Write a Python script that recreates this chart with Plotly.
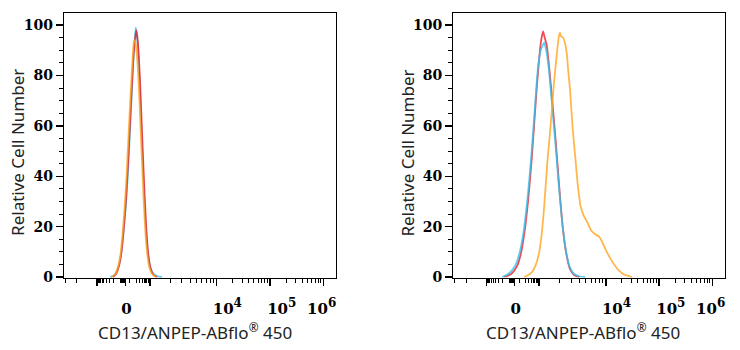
import numpy as np
import plotly.graph_objects as go

# ---------------- data (x in display units on the biexponential axis, y = relative cell number) ----
LEFT_CYAN_X = [1.998, 2.073, 2.129, 2.186, 2.223, 2.261, 2.298, 2.336, 2.373, 2.411, 2.448, 2.480,
               2.514, 2.552, 2.589, 2.627, 2.664, 2.702, 2.749, 2.805, 2.880, 2.974]
LEFT_CYAN_Y = [0, 0.6, 2.5, 6.5, 12, 20, 29, 42, 58, 75, 90, 99,
               93, 78, 58, 38, 22, 11, 4.5, 1.5, 0.4, 0]

LEFT_RED_X = [2.054, 2.111, 2.167, 2.214, 2.251, 2.289, 2.326, 2.364, 2.401, 2.439, 2.477, 2.492,
              2.523, 2.561, 2.598, 2.636, 2.674, 2.711, 2.758, 2.814, 2.880]
LEFT_RED_Y = [0, 1.2, 4.5, 10, 18, 28, 41, 57, 73, 88, 96, 98,
              93, 78, 58, 38, 21, 10, 3.5, 0.8, 0]

LEFT_GOLD_X = [2.017, 2.092, 2.148, 2.195, 2.233, 2.270, 2.308, 2.345, 2.383, 2.420, 2.448, 2.467,
               2.495, 2.533, 2.570, 2.608, 2.645, 2.683, 2.730, 2.786, 2.861]
LEFT_GOLD_Y = [0, 1, 4, 9, 17, 27, 40, 56, 72, 86, 93.5, 94,
               90, 78, 60, 41, 24, 12, 4.5, 1.2, 0]

RIGHT_RED_X = [2.092, 2.223, 2.336, 2.411, 2.486, 2.552, 2.608, 2.655, 2.702, 2.749, 2.786, 2.820,
               2.852, 2.889, 2.936, 2.998, 3.062, 3.124, 3.189, 3.255, 3.330, 3.405, 3.499]
RIGHT_RED_Y = [0, 1.2, 4.5, 10, 20, 33, 47, 61, 75, 87, 94, 97.5,
               95, 92, 83, 69, 53, 36, 20, 9.5, 3, 0.8, 0]

RIGHT_CYAN_X = [2.054, 2.186, 2.298, 2.373, 2.448, 2.523, 2.580, 2.636, 2.683, 2.730, 2.777, 2.814,
                2.842, 2.880, 2.927, 2.983, 3.049, 3.114, 3.180, 3.246, 3.321, 3.405, 3.499, 3.612]
RIGHT_CYAN_Y = [0, 1.5, 4.5, 9, 17, 30, 43, 58, 72, 84, 90, 92,
                93, 90, 83, 70, 54, 37, 22, 11, 4, 1.2, 0.3, 0]

RIGHT_GOLD_X = [2.467, 2.598, 2.687, 2.749, 2.795, 2.842, 2.899, 2.946, 2.992, 3.030, 3.077, 3.114,
                3.137, 3.161, 3.199, 3.236, 3.265, 3.293, 3.325, 3.373, 3.424, 3.471, 3.527, 3.593,
                3.658, 3.724, 3.799, 3.874, 3.940, 4.006, 4.081, 4.156, 4.249, 4.343, 4.493]
RIGHT_GOLD_Y = [0, 1.5, 5, 10, 17, 28, 45, 56, 68, 78, 88, 95,
                97, 95.5, 95, 92.5, 89, 82, 75, 60, 48, 37, 28, 24,
                21.5, 18.5, 17, 16, 13.5, 10.5, 7.5, 5, 2.5, 1, 0]

Y_TICKS = [0, 20, 40, 60, 80, 100]
X_TICK_LABELS = ["0",
                 "10<sup><span style='font-size:12px'>4</span></sup>",
                 "10<sup><span style='font-size:12px'>5</span></sup>",
                 "10<sup><span style='font-size:12px'>6</span></sup>"]
X_LABEL_VALUES = [0, 1e4, 1e5, 1e6]
X_MAJOR_VALUES = [-1000, 0, 1000, 1e4, 1e5, 1e6]

X_TITLE = "CD13/ANPEP-ABflo<sup>®</sup> 450"
Y_TITLE = "Relative Cell Number"

# ---------------- biexponential display scale ----------------
def to_disp(v):
    if abs(v) <= 100:
        return float(np.interp(v, [-100, 0, 100], [2.186, 2.289, 2.373]))
    n = np.log10(abs(v))
    if v > 0:
        return float(np.interp(n, [2, 3, 4, 5, 6], [2.373, 2.749, 4.0, 5.0, 6.0]))
    return float(np.interp(n, [2, 3, 4], [2.186, 1.754, 0.497]))

XR = [1.135, 6.238]
YR = [-0.25, 104.8]

minor_vals = ([k * 10 ** n for n in (2, 3, 4, 5) for k in range(2, 10)]
              + [-k * 10 ** n for n in (2, 3) for k in range(2, 10)]
              + [-10 * k for k in range(1, 10)] + [100, -100])
minor_pos = [p for p in (to_disp(v) for v in minor_vals) if XR[0] < p < XR[1]]
major_pos = [to_disp(v) for v in X_MAJOR_VALUES]
# label anchor shift (labels sit to the right of their ticks, last one pulled inside the frame)
LABEL_SHIFT = [0.02, 0.2, 0.22, -0.03]
label_pos = [to_disp(v) + s for v, s in zip(X_LABEL_VALUES, LABEL_SHIFT)]

RED = "#EE1C25"
CYAN = "#2EC4F0"
GOLD = "#FFA51F"

fig = go.Figure()

def add(x, y, color, xa, ya):
    fig.add_trace(go.Scatter(x=x, y=y, mode="lines", line=dict(color=color, width=1.8, shape="spline", smoothing=0.6),
                             opacity=0.8, xaxis=xa, yaxis=ya, showlegend=False, hoverinfo="skip"))

add(LEFT_CYAN_X, LEFT_CYAN_Y, CYAN, "x", "y")
add(LEFT_RED_X, LEFT_RED_Y, RED, "x", "y")
add(LEFT_GOLD_X, LEFT_GOLD_Y, GOLD, "x", "y")
add(RIGHT_RED_X, RIGHT_RED_Y, RED, "x2", "y2")
add(RIGHT_CYAN_X, RIGHT_CYAN_Y, CYAN, "x2", "y2")
add(RIGHT_GOLD_X, RIGHT_GOLD_Y, GOLD, "x2", "y2")
# invisible anchors for the label axes
for xa, ya in (("x3", "y"), ("x4", "y2")):
    fig.add_trace(go.Scatter(x=[3], y=[-50], mode="markers", marker=dict(opacity=0), xaxis=xa, yaxis=ya,
                             showlegend=False, hoverinfo="skip"))

W, H = 740, 350
dom_l = [64 / W, 336 / W]
dom_r = [453.3 / W, 725 / W]
dom_y = [1 - 283.3 / H, 1 - 13.3 / H]

tick_font = dict(family="DejaVu Serif", size=14, color="black", weight="bold")
xtick_font = dict(family="DejaVu Serif", size=15, color="black", weight="bold")

def xaxis_marks(domain):
    return dict(domain=domain, range=XR, showline=True, linecolor="black", linewidth=1.3, mirror=True,
                showgrid=False, zeroline=False, ticks="outside", tickmode="array", tickvals=major_pos,
                ticktext=[""] * len(major_pos), ticklen=7, tickwidth=1.5, tickcolor="black",
                minor=dict(tickmode="array", tickvals=minor_pos, ticks="outside", ticklen=4, tickwidth=1,
                           tickcolor="black", showgrid=False),
                fixedrange=True)

def xaxis_labels(over):
    return dict(overlaying=over, anchor="y" if over == "x" else "y2", side="bottom", range=XR,
                showline=False, showgrid=False, zeroline=False, ticks="outside", ticklen=17,
                tickcolor="rgba(0,0,0,0)", tickmode="array", tickvals=label_pos, ticktext=X_TICK_LABELS,
                tickfont=xtick_font, fixedrange=True)

def yaxis(domain, anchor):
    return dict(domain=domain, anchor=anchor, range=YR, showline=True, linecolor="black", linewidth=1.3,
                mirror=True, showgrid=False, zeroline=False, ticks="outside", tickmode="array",
                tickvals=Y_TICKS, ticklen=7, tickwidth=1.5, tickcolor="black", tickfont=tick_font,
                minor=dict(tickmode="array", tickvals=[v for v in range(5, 105, 5) if v % 20],
                           ticks="outside", ticklen=4, tickwidth=1, tickcolor="black", showgrid=False),
                fixedrange=True)

fig.update_layout(
    width=W, height=H, margin=dict(l=0, r=0, t=0, b=0),
    paper_bgcolor="white", plot_bgcolor="white",
    xaxis=dict(xaxis_marks(dom_l), anchor="y"),
    xaxis2=dict(xaxis_marks(dom_r), anchor="y2"),
    xaxis3=xaxis_labels("x"),
    xaxis4=xaxis_labels("x2"),
    yaxis=yaxis(dom_y, "x"),
    yaxis2=yaxis(dom_y, "x2"),
)

title_font = dict(family="Noto Sans", size=17, color="#222222")
for cx, tx in ((195, 18), (583.3, 407.7)):
    fig.add_annotation(text=X_TITLE, xref="paper", yref="paper", x=cx / W, y=(H - 338) / H,
                       showarrow=False, font=title_font, xanchor="center", yanchor="middle")
    fig.add_annotation(text=Y_TITLE, xref="paper", yref="paper", x=tx / W, y=(H - 156) / H,
                       showarrow=False, font=title_font, textangle=-90, xanchor="center", yanchor="middle")

fig.write_html("out.html", post_script="document.body.style.margin='0';",
               config={"displayModeBar": False, "staticPlot": True})
